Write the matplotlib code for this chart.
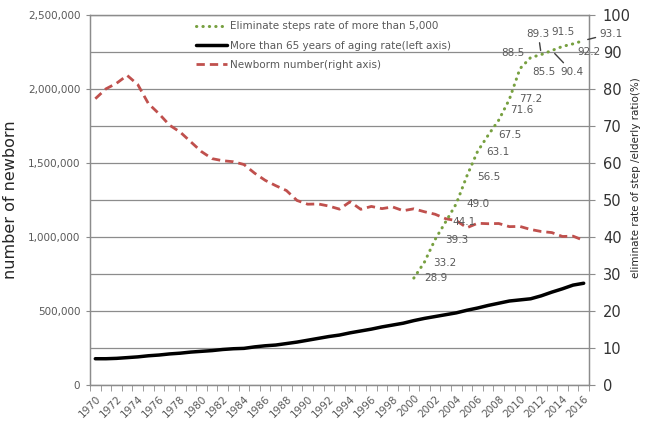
import numpy as np
import matplotlib.pyplot as plt
from matplotlib.ticker import FuncFormatter, MultipleLocator

# 数据
years = list(range(1970, 2017))
newborn = [1934239, 2000973, 2038682, 2091983, 2029989, 1901440, 1832617, 1755100,
           1708643, 1642580, 1576889, 1529455, 1515392, 1508687, 1489780, 1431577,
           1382946, 1346658, 1314006, 1246802, 1221585, 1223245, 1208989, 1188282,
           1238328, 1187064, 1206555, 1191665, 1203147, 1177669, 1190547, 1170662,
           1153855, 1123610, 1110721, 1062530, 1092674, 1089818, 1091156, 1070035,
           1071304, 1050806, 1037231, 1029816, 1003539, 1005677, 976978]
aging_rate = [7.1, 7.1, 7.2, 7.4, 7.6, 7.9, 8.1, 8.4, 8.6, 8.9,
              9.1, 9.3, 9.6, 9.8, 9.9, 10.3, 10.6, 10.8, 11.2, 11.6,
              12.1, 12.6, 13.1, 13.5, 14.1, 14.6, 15.1, 15.7, 16.2, 16.7,
              17.4, 18.0, 18.5, 19.0, 19.5, 20.2, 20.8, 21.5, 22.1, 22.7,
              23.0, 23.3, 24.1, 25.1, 26.0, 27.0, 27.5]
step_years = list(range(2000, 2017))
step_rate = [28.9, 33.2, 39.3, 44.1, 49.0, 56.5, 63.1, 67.5, 71.6, 77.2,
             85.5, 88.5, 89.3, 90.4, 91.5, 92.2, 93.1]

legend_labels = ['Eliminate steps rate of more than 5,000',
                 'More than 65 years of aging rate(left axis)',
                 'Newborm number(right axis)']

# 标签偏移(像素)
label_offsets = [(10, 0, 'left'), (9, -1, 'left'), (10, 0, 'left'), (7, 0, 'left'),
                 (10, 0, 'left'), (10, -1, 'left'), (9, 0, 'left'), (10, 0, 'left'),
                 (11, 10, 'left'), (10, 0, 'left'), (12, -3, 'left'), (-6, 5, 'right'),
                 (-3, 21, 'center'), (20, -21, 'center'), (1, 14, 'center'),
                 (4, -8, 'left'), (16, 7, 'left')]
leader = {2012, 2013, 2016}

grid_c = '#8c8c8c'
txt_c = '#595959'

fig = plt.figure(figsize=(6.47, 4.21), dpi=100)
ax = fig.add_axes([90 / 647, 1 - 385 / 421, 499 / 647, 370 / 421])
ax2 = ax.twinx()

l_new, = ax.plot(years, newborn, color='#C0504D', lw=2.0, ls=(0, (3.0, 1.8)))
l_age, = ax2.plot(years, aging_rate, color='black', lw=2.5, solid_capstyle='round')
l_step, = ax2.plot(step_years, step_rate, color='#77A040', lw=2.2,
                   ls=(0, (0.1, 2.0)), dash_capstyle='round')

for yr, v, (dx, dy, ha) in zip(step_years, step_rate, label_offsets):
    kw = {}
    if yr in leader:
        kw['arrowprops'] = dict(arrowstyle='-', color='#404040', lw=1.0,
                                shrinkA=1, shrinkB=3)
    ax2.annotate(f'{v:.1f}', (yr, v), xytext=(dx, dy), textcoords='offset pixels',
                 ha=ha, va='center', fontsize=7.5, color=txt_c, **kw)

ax.set_xlim(1969.5, 2016.5)
ax.set_ylim(0, 2500000)
ax2.set_ylim(0, 100)

ax.set_xticks(range(1970, 2017, 2))
ax.set_xticks(np.arange(1969.5, 2017, 1), minor=True)
ax.tick_params(axis='x', which='major', length=0, pad=6, labelsize=7.5, labelcolor=txt_c)
ax.tick_params(axis='x', which='minor', length=4, color=grid_c)
for lab in ax.get_xticklabels():
    lab.set_rotation(45)
    lab.set_ha('right')
    lab.set_rotation_mode('anchor')

ax.yaxis.set_major_locator(MultipleLocator(500000))
ax.yaxis.set_minor_locator(MultipleLocator(250000))
ax.yaxis.set_major_formatter(FuncFormatter(lambda v, p: f'{v:,.0f}'))
ax.tick_params(axis='y', which='major', length=3, color=grid_c, labelsize=7.5,
               labelcolor=txt_c, pad=4)
ax.tick_params(axis='y', which='minor', length=0)
ax.grid(True, which='both', axis='y', color=grid_c, lw=0.9)
ax.set_axisbelow(True)

ax2.yaxis.set_major_locator(MultipleLocator(10))
ax2.tick_params(axis='y', length=4, color=grid_c, labelsize=10.5, labelcolor='#333333', pad=6)

for a in (ax, ax2):
    for s in a.spines.values():
        s.set_color(grid_c)
        s.set_linewidth(0.9)

ax.set_ylabel('number of newborn', fontsize=11.5, color='#262626')
ax.yaxis.set_label_coords(-0.145, 0.5)
ax2.set_ylabel('eliminate rate of step /elderly ratio(%)', fontsize=7.5, color='#262626')
ax2.yaxis.set_label_coords(1.085, 0.56)

ax2.legend([l_step, l_age, l_new], legend_labels, loc='upper left',
           bbox_to_anchor=(0.2, 1.0), frameon=False, fontsize=7.5,
           labelcolor=txt_c, handlelength=3.0, handletextpad=0.3,
           labelspacing=0.9, borderaxespad=0.2)

fig.savefig('out.png', dpi=100)
